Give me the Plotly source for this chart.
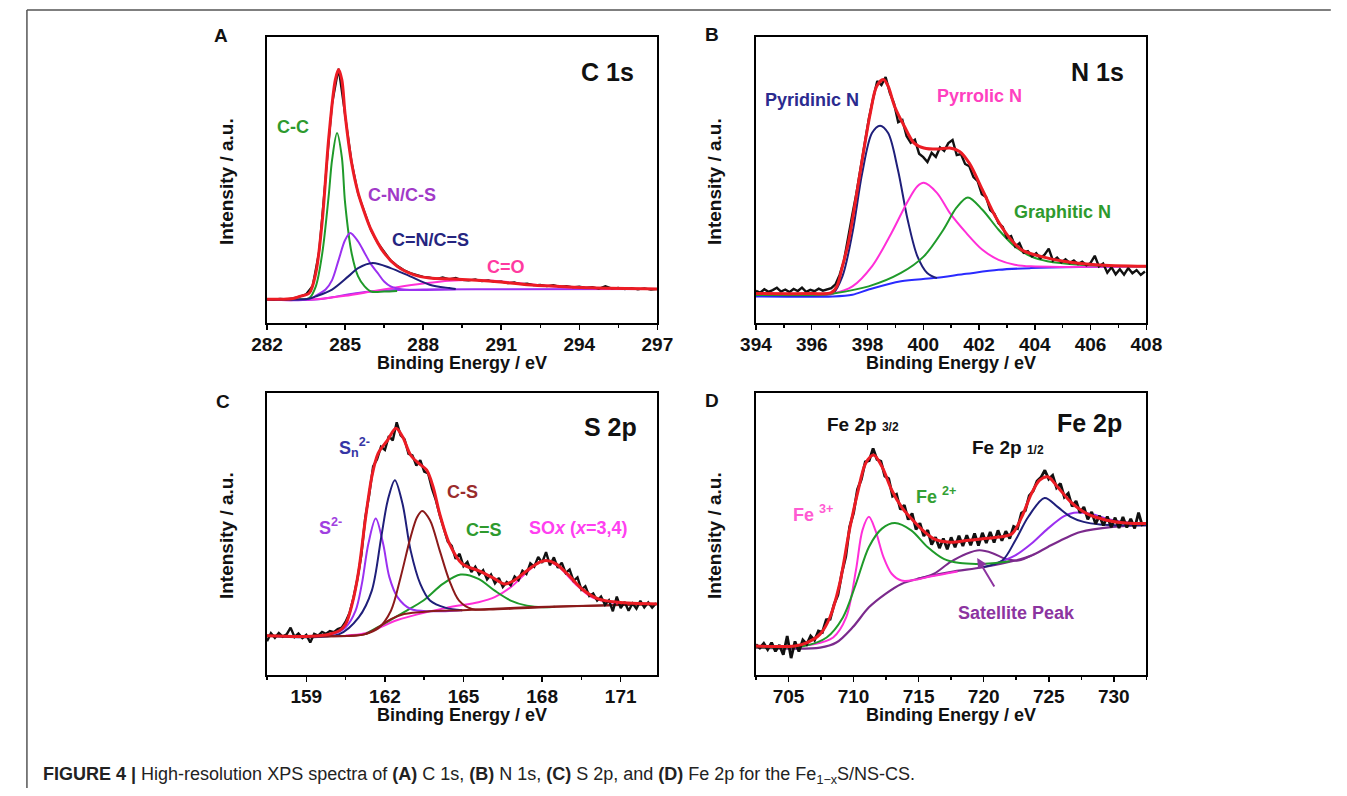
import plotly.graph_objects as go

# ---------------- Panel A : C 1s ----------------
A_FIT_X = [282, 283, 283.25, 283.625, 283.875, 284.125, 284.375, 284.625, 284.75, 284.875, 285.0, 285.25, 285.5, 285.75, 286.0, 286.5, 287.0, 287.625, 288.25, 289.0, 289.5, 290.75, 292.0, 293.25, 294.5, 297]
A_FIT_Y = [8.3, 8.6, 9.3, 10.5, 17.5, 36, 65, 85, 88.6, 85, 73, 56, 45.5, 38.5, 32.6, 24.5, 19.8, 16.9, 15.7, 15.4, 15.2, 14.5, 13.4, 12.8, 12.3, 11.9]
A_DATA_X0, A_DATA_STEP = 282.0, 0.25
A_DATA_Y = [8.4, 8.2, 8.5, 8.3, 8.7, 9.2, 10.1, 13.0, 25.0, 50.5, 76.5, 88.9, 73.5, 56.4, 45.2, 38.9, 32.3, 28.1, 24.8, 21.9,
            20.1, 18.6, 17.5, 16.8, 16.2, 15.9, 15.4, 16.0, 15.3, 15.8, 15.0, 14.9, 15.3, 14.6, 14.9, 14.3, 14.5, 13.9, 14.2, 13.6,
            13.8, 13.2, 13.4, 12.9, 13.3, 12.7, 12.9, 12.5, 12.8, 12.3, 12.6, 12.0, 12.9, 12.1, 12.3, 11.8, 12.2, 11.7, 12.1, 11.6, 11.9]
A_BASE_X = [282, 283, 283.5, 284, 284.5, 285, 285.5, 286, 287, 288, 290, 297]
A_BASE_Y = [8.2, 8.2, 8.0, 8.3, 9.0, 9.8, 10.5, 11.0, 11.5, 11.7, 11.8, 11.9]
A_CO_X = [282, 283, 284, 285, 286, 287, 288, 289, 290, 291, 292, 293, 294, 295, 296, 297]
A_CO_Y = [8.2, 8.0, 8.4, 9.5, 11.0, 12.5, 13.8, 14.8, 15.0, 14.5, 13.6, 12.8, 12.3, 12.0, 11.9, 11.9]
A_CC_X = [282, 283.3, 283.625, 283.875, 284.125, 284.375, 284.5, 284.69, 284.875, 285.0, 285.25, 285.5, 285.75, 286.0, 286.5, 287.0]
A_CC_Y = [8.2, 8.3, 8.7, 12.8, 24.5, 45, 57, 66.4, 58, 42, 24.5, 16.3, 12.8, 11.0, 11.0, 11.2]
A_CNS_X = [282, 283.6, 283.875, 284.25, 284.5, 284.75, 285.0, 285.2, 285.5, 285.75, 286.0, 286.25, 286.5, 286.75, 287.25, 289.25]
A_CNS_Y = [8.2, 8.3, 9.5, 11.7, 15.0, 22.0, 29.0, 31.5, 28.5, 24.5, 20.5, 17.5, 14.5, 12.8, 11.7, 11.8]
A_CNDS_X = [282, 283.6, 283.875, 284.5, 285.125, 285.5, 286.06, 286.75, 287.5, 288.25, 289.0, 289.25]
A_CNDS_Y = [8.2, 8.5, 9.3, 11.7, 16.3, 19.2, 21.0, 19.2, 16.3, 13.4, 12.2, 11.9]

# ---------------- Panel B : N 1s ----------------
B_FIT_X = [394.0, 396.0, 396.7, 396.9, 397.1, 397.3, 397.46, 397.81, 398.1, 398.33, 398.57, 398.74, 398.97, 399.32, 399.67, 400.02, 400.49, 400.95, 401.3, 401.65, 402.12, 402.58, 403.05, 403.52, 404.21, 405.03, 406.19, 408.0]
B_FIT_Y = [10.3, 10.3, 10.6, 12.8, 19.8, 27.5, 36.1, 57.1, 73.4, 82.8, 85.1, 82.8, 75.8, 68.8, 62.9, 61.2, 60.8, 61.2, 60.0, 55.9, 46.6, 37.3, 30.3, 25.6, 23.3, 21.6, 20.4, 19.8]
B_DATA_X0, B_DATA_STEP = 394.0, 0.15
B_DATA_Y = [11.2, 10.6, 11.8, 10.9, 11.5, 12.3, 11.0, 11.7, 10.8, 11.9, 11.2, 12.4, 10.9, 11.6, 11.1, 12.0, 11.3, 11.8, 12.2, 13.5,
            16.8, 21.5, 28.9, 37.6, 45.2, 54.0, 62.8, 71.5, 78.4, 84.6, 83.2, 86.0, 80.5, 76.8, 70.2, 71.0, 65.4, 63.0, 64.1, 59.2,
            58.0, 56.3, 59.5, 58.1, 61.4, 60.2, 62.9, 64.0, 58.7, 59.1, 55.6, 54.8, 51.0, 49.6, 45.0, 44.1, 39.5, 38.2, 34.9, 33.6,
            29.8, 30.4, 26.7, 27.9, 24.6, 25.1, 23.3, 24.4, 22.6, 23.9, 26.0, 21.8, 22.9, 21.2, 22.3, 21.0, 21.9, 20.6, 21.4, 20.2,
            21.0, 23.5, 19.8, 20.8, 17.6, 19.5, 17.0, 18.8, 16.9, 19.2, 17.4, 18.5, 16.8, 18.0]
B_PYRI_X = [394.0, 396.5, 396.76, 397.1, 397.46, 397.81, 398.16, 398.45, 398.74, 399.09, 399.44, 399.79, 400.14, 400.49]
B_PYRI_Y = [9.8, 9.9, 10.3, 16.3, 31.5, 52.4, 66.4, 69.0, 66.4, 53.6, 36.1, 23.3, 17.5, 15.7]
B_PYRR_X = [394, 396.5, 396.76, 397.46, 398.16, 398.86, 399.44, 399.79, 400.02, 400.49, 400.95, 401.54, 402.12, 402.7, 403.28, 403.86, 405.03, 408]
B_PYRR_Y = [9.8, 10.0, 10.3, 12.8, 19.8, 31.5, 42.5, 47.8, 49.0, 45.5, 38.5, 31.5, 25.6, 22.1, 20.4, 19.8, 19.6, 19.8]
B_GRAP_X = [394, 396.5, 396.76, 398.04, 399.2, 400.02, 400.72, 401.19, 401.6, 402.12, 402.7, 403.28, 403.86, 404.45, 405.61, 408]
B_GRAP_Y = [9.8, 10.0, 10.3, 12.8, 17.5, 23.3, 32.6, 40.3, 43.9, 39.6, 32.6, 26.8, 23.3, 21.6, 20.4, 19.8]
B_BASE_X = [394, 396.76, 397.46, 398.04, 399.2, 400.37, 401.54, 402.7, 403.86, 405.6, 408]
B_BASE_Y = [9.3, 9.3, 9.9, 11.7, 14.6, 15.7, 17.2, 18.6, 19.2, 19.6, 19.8]

# ---------------- Panel C : S 2p ----------------
C_FIT_X = [157.5, 159.5, 160.26, 160.5, 160.75, 161.0, 161.25, 161.5, 161.74, 162.11, 162.42, 162.67, 162.98, 163.28, 163.59, 163.84, 164.09, 164.46, 164.95, 165.57, 166.19, 166.56, 166.93, 167.42, 167.91, 168.16, 168.53, 169.02, 169.52, 170.14, 170.88, 172.4]
C_FIT_Y = [13.9, 13.9, 15.7, 18.0, 25.2, 37.0, 54.9, 70.3, 78.6, 83.4, 87.5, 84.6, 78.0, 75.1, 72.7, 66.7, 57.2, 46.6, 39.4, 37.0, 34.1, 32.3, 33.5, 37.0, 40.0, 40.6, 39.4, 35.3, 30.5, 27.0, 25.8, 25.2]
C_DATA_X0, C_DATA_STEP = 157.5, 0.15
C_DATA_Y = [12.0, 14.8, 13.2, 14.9, 13.6, 14.4, 16.8, 13.5, 14.7, 13.1, 14.2, 11.5, 14.6, 14.0, 15.3, 14.6, 15.6, 15.2, 16.3, 16.8,
            18.9, 22.0, 27.4, 34.0, 42.5, 55.8, 63.9, 74.0, 76.5, 80.9, 79.8, 84.7, 83.2, 89.6, 85.0, 83.6, 78.4, 77.9, 74.3, 76.2,
            72.1, 71.5, 66.0, 61.8, 56.4, 51.9, 47.3, 45.8, 41.2, 43.0, 38.6, 40.1, 36.5, 38.4, 35.7, 37.2, 33.9, 35.6, 32.5, 34.4,
            31.2, 33.0, 31.8, 34.9, 33.6, 37.0, 35.8, 39.6, 38.4, 41.9, 39.8, 43.6, 38.9, 41.7, 38.0, 39.8, 36.2, 37.4, 33.4, 34.6,
            30.3, 31.5, 28.0, 28.9, 26.4, 27.8, 24.9, 26.5, 22.6, 27.8, 23.7, 25.9, 22.8, 25.4, 23.5, 26.3, 24.0, 25.7, 23.9, 25.5]
C_BASE_X = [157.5, 160.75, 161.25, 161.74, 162.23, 162.73, 163.72, 164.95, 167.42, 172.4]
C_BASE_Y = [13.9, 13.9, 14.5, 16.9, 19.8, 21.6, 22.6, 23.0, 24.0, 25.2]
C_S2_X = [157.5, 160.01, 160.5, 160.88, 161.12, 161.37, 161.65, 161.93, 162.17, 162.48, 162.98, 163.72, 164.95]
C_S2_Y = [13.9, 14.5, 16.9, 22.8, 32.3, 46.6, 55.5, 46.6, 34.7, 27.6, 23.4, 22.6, 23.0]
C_SN_X = [157.5, 160.26, 161.0, 161.5, 161.86, 162.11, 162.38, 162.67, 162.98, 163.35, 163.72, 164.33, 164.95]
C_SN_Y = [13.9, 14.5, 20.4, 29.9, 48.9, 62.0, 69.1, 60.8, 44.2, 32.3, 26.4, 23.8, 23.0]
C_CS_X = [157.5, 160.75, 161.25, 161.74, 162.23, 162.6, 162.98, 163.23, 163.42, 163.72, 164.09, 164.46, 164.83, 165.32, 166.0, 168.0, 170.0, 172.4]
C_CS_Y = [13.9, 13.9, 14.5, 16.5, 22.8, 34.7, 48.9, 56.0, 58.2, 54.9, 44.2, 33.5, 26.4, 23.4, 23.2, 24.0, 24.6, 25.2]
C_CDS_X = [161.25, 161.99, 162.73, 163.47, 164.21, 164.89, 165.57, 166.19, 166.8, 167.42, 168.04, 168.5]
C_CDS_Y = [14.5, 18.3, 22.3, 26.4, 32.3, 35.6, 34.1, 29.9, 26.4, 24.6, 24.0, 24.2]
C_SOX_X = [160.5, 161.25, 162.48, 164.33, 165.57, 166.19, 166.8, 167.42, 167.79, 168.16, 168.65, 169.27, 169.89, 170.63, 172.4]
C_SOX_Y = [14.0, 14.8, 19.5, 23.8, 25.8, 27.6, 31.1, 36.5, 39.4, 40.6, 38.2, 32.3, 27.6, 25.8, 25.2]

# ---------------- Panel D : Fe 2p ----------------
D_FIT_X = [702.5, 705.5, 706.43, 707.43, 708.18, 708.93, 709.68, 710.3, 710.93, 711.55, 712.18, 712.93, 713.68, 714.43, 715.18, 716.18, 717.43, 718.68, 719.93, 721.18, 722.18, 722.93, 723.68, 724.3, 724.93, 725.68, 726.68, 727.93, 729.43, 730.93, 732.5]
D_FIT_Y = [10.3, 10.3, 11.5, 14.5, 20.4, 32.3, 51.3, 64.4, 75.1, 78.0, 73.9, 65.6, 59.6, 55.5, 51.9, 48.3, 47.1, 47.7, 48.3, 48.9, 50.1, 56.1, 64.4, 69.1, 70.3, 66.7, 61.4, 57.2, 54.9, 53.9, 53.7]
D_DATA_X0, D_DATA_STEP = 702.5, 0.3
D_DATA_Y = [10.8, 9.6, 11.2, 9.0, 11.5, 8.4, 10.6, 7.2, 13.8, 6.0, 11.9, 8.3, 12.4, 10.9, 13.8, 12.3, 15.6, 15.1, 19.6, 19.8,
            25.0, 28.4, 36.2, 42.0, 52.6, 57.5, 65.8, 69.4, 75.6, 76.0, 80.3, 76.4, 75.8, 70.5, 69.6, 63.4, 64.1, 58.7, 60.2, 55.1,
            57.3, 51.6, 53.8, 49.3, 51.4, 46.2, 48.9, 45.0, 48.4, 44.6, 48.8, 45.3, 49.4, 45.7, 49.6, 46.0, 50.2, 45.9, 50.4, 46.8,
            50.7, 47.0, 51.3, 47.6, 51.0, 48.4, 52.7, 52.0, 57.4, 58.3, 63.6, 65.2, 68.8, 70.1, 72.6, 69.5, 70.8, 66.4, 67.9, 63.1,
            64.4, 59.8, 61.7, 57.5, 59.6, 55.2, 57.8, 53.6, 56.5, 53.0, 56.2, 52.4, 55.8, 52.1, 56.0, 52.3, 55.4, 52.0, 57.6, 52.8]
D_FE3_X = [702.5, 706.93, 708.43, 709.43, 710.18, 710.68, 711.18, 711.68, 712.3, 712.93, 713.68, 714.68, 716.0, 718.0]
D_FE3_Y = [9.8, 10.9, 13.3, 20.4, 37.1, 51.3, 56.1, 51.3, 41.8, 35.9, 33.5, 33.7, 35.0, 36.7]
D_FE2_X = [702.5, 706.18, 707.93, 709.18, 710.18, 711.18, 712.18, 713.18, 714.43, 715.68, 716.93, 718.18, 719.43, 720.68, 722.0]
D_FE2_Y = [9.8, 10.3, 13.3, 20.4, 32.3, 45.4, 51.9, 53.9, 51.3, 45.4, 41.2, 39.7, 39.4, 39.6, 40.3]
D_BASE_X = [702.5, 707.43, 708.68, 709.93, 711.18, 712.43, 713.68, 714.93, 717.43, 719.93, 722.43, 723.68, 724.93, 726.18, 727.43, 729.93, 732.5]
D_BASE_Y = [9.7, 9.7, 11.5, 16.9, 24.0, 28.7, 32.3, 34.1, 36.5, 38.2, 40.6, 42.4, 45.4, 48.3, 50.7, 52.5, 53.1]
D_SAT_X = [714.93, 716.18, 717.43, 718.68, 719.68, 720.68, 721.68, 722.68, 723.68]
D_SAT_Y = [34.1, 35.9, 40.0, 43.0, 44.2, 43.2, 41.2, 40.6, 42.4]
D_P12A_X = [719.93, 721.43, 722.43, 723.43, 724.68, 725.68, 726.68, 727.68, 728.93, 732.5]
D_P12A_Y = [38.2, 40.6, 47.7, 56.1, 62.8, 59.6, 56.1, 54.3, 53.4, 53.1]
D_P12B_X = [720.5, 722.43, 723.68, 724.93, 726.18, 726.93, 728.18, 729.93, 732.5]
D_P12B_Y = [38.8, 42.4, 46.6, 51.9, 56.3, 57.5, 57.2, 54.9, 53.4]

# ---------------- styling ----------------
FONT = "Liberation Sans, Arial, sans-serif"
RED = "#ec1c24"
BLACK = "#111111"
GREEN = "#1f9a2a"
NAVY = "#1f1f7a"
VIOLET = "#9b30f0"
MAGENTA = "#ff2fd8"
BLUE = "#2a2aff"
BROWN = "#8b1a1a"
DPURPLE = "#7b2a8c"

# page is 1347x796; the default body margin (8 px) surrounds the figure
PAGE_W, PAGE_H, OFF = 1347, 796, 8
W, H = PAGE_W - 2 * OFF, PAGE_H - 2 * OFF


def px(xp, yp):
    """page pixel -> paper fraction"""
    return (xp - OFF) / W, 1 - (yp - OFF) / H


def grid(x0, step, n):
    return [round(x0 + step * i, 3) for i in range(n)]


fig = go.Figure()


def line(ax, x, y, color, width=2.0, smooth=True):
    fig.add_trace(go.Scatter(
        x=x, y=y, mode="lines", xaxis="x" + ax, yaxis="y" + ax,
        line=dict(color=color, width=width, shape="spline" if smooth else "linear",
                  smoothing=0.9 if smooth else None),
        showlegend=False, hoverinfo="skip"))


# Panel A
line("", A_BASE_X, A_BASE_Y, VIOLET)
line("", A_CO_X, A_CO_Y, MAGENTA)
line("", A_CC_X, A_CC_Y, GREEN)
line("", A_CNS_X, A_CNS_Y, VIOLET)
line("", A_CNDS_X, A_CNDS_Y, NAVY)
line("", grid(A_DATA_X0, A_DATA_STEP, len(A_DATA_Y)), A_DATA_Y, BLACK, 2.0, smooth=False)
line("", A_FIT_X, A_FIT_Y, RED, 3.0)

# Panel B
line("2", B_BASE_X, B_BASE_Y, BLUE)
line("2", B_PYRI_X, B_PYRI_Y, NAVY)
line("2", B_PYRR_X, B_PYRR_Y, MAGENTA)
line("2", B_GRAP_X, B_GRAP_Y, GREEN)
line("2", grid(B_DATA_X0, B_DATA_STEP, len(B_DATA_Y)), B_DATA_Y, BLACK, 2.4, smooth=False)
line("2", B_FIT_X, B_FIT_Y, RED, 3.0)

# Panel C
line("3", C_SOX_X, C_SOX_Y, MAGENTA)
line("3", C_CDS_X, C_CDS_Y, GREEN)
line("3", C_S2_X, C_S2_Y, VIOLET)
line("3", C_SN_X, C_SN_Y, NAVY)
line("3", C_BASE_X, C_BASE_Y, BROWN)
line("3", C_CS_X, C_CS_Y, BROWN)
line("3", grid(C_DATA_X0, C_DATA_STEP, len(C_DATA_Y)), C_DATA_Y, BLACK, 2.4, smooth=False)
line("3", C_FIT_X, C_FIT_Y, RED, 3.0)

# Panel D
line("4", D_BASE_X, D_BASE_Y, DPURPLE, 2.2)
line("4", D_SAT_X, D_SAT_Y, DPURPLE)
line("4", D_P12B_X, D_P12B_Y, VIOLET)
line("4", D_P12A_X, D_P12A_Y, NAVY)
line("4", D_FE3_X, D_FE3_Y, MAGENTA)
line("4", D_FE2_X, D_FE2_Y, GREEN)
line("4", grid(D_DATA_X0, D_DATA_STEP, len(D_DATA_Y)), D_DATA_Y, BLACK, 2.8, smooth=False)
line("4", D_FIT_X, D_FIT_Y, RED, 3.0)


def xaxis(domain, rng, tick0, dtick, mdtick, anchor):
    return dict(
        domain=domain, range=rng, anchor=anchor, tickmode="linear", tick0=tick0, dtick=dtick,
        ticks="outside", ticklen=5, tickwidth=1.5, tickcolor="black", ticklabelstandoff=-2,
        showline=True, linecolor="black", linewidth=2, mirror=True,
        showgrid=False, zeroline=False, fixedrange=True,
        tickfont=dict(family=FONT, size=19, color="#111", weight="bold"),
        minor=dict(ticks="outside", ticklen=3, tickwidth=1.5, tickcolor="black",
                   tick0=tick0, dtick=mdtick, showgrid=False))


def yaxis(domain, anchor):
    return dict(
        domain=domain, range=[0, 100], anchor=anchor, showticklabels=False, ticks="",
        showline=True, linecolor="black", linewidth=2, mirror=True,
        showgrid=False, zeroline=False, fixedrange=True)


def dom_x(a, b):
    return [px(a, 0)[0], px(b, 0)[0]]


def dom_y(top, bottom):
    return [px(0, bottom)[1], px(0, top)[1]]


XL = dom_x(257, 657)
XR = dom_x(758, 1158)
YT = dom_y(37, 323)
YB = dom_y(393, 675)

ann = []


def txt(x, y, text, size, color, xref="paper", yref="paper", bold=True, angle=0, xanchor="center"):
    ann.append(dict(x=x, y=y, xref=xref, yref=yref, text=text, showarrow=False,
                    textangle=angle, xanchor=xanchor, yanchor="middle",
                    font=dict(family=FONT, size=size, color=color, weight="bold" if bold else "normal")))


# panel letters
for letter, (xp, yp) in {"A": (210, 36), "B": (713, 35), "C": (212, 401), "D": (713, 400)}.items():
    x, y = px(xp, yp)
    txt(x, y, letter, 19, "#111")

# axis titles
for (xc, yc) in [(457, 363), (958, 363), (457, 715), (958, 715)]:
    x, y = px(xc, yc)
    txt(x, y, "Binding Energy / eV", 18, "#111")
for (xc, yc) in [(215, 182), (715, 182), (215, 536), (715, 536)]:
    x, y = px(xc, yc)
    txt(x, y, "Intensity / a.u.", 19, "#111", angle=-90)

LS = 18  # label font size
TS = 25  # panel title size
# Panel A labels
txt(295.1, 87.8, "C 1s", TS, "#111", "x", "y")
txt(282.98, 68.5, "C-C", LS, "#2e9a2e", "x", "y")
txt(287.18, 44.8, "C-N/C-S", LS, "#a13ac8", "x", "y")
txt(288.3, 29.0, "C=N/C=S", LS, "#25257f", "x", "y")
txt(291.2, 19.6, "C=O", LS, "#ff3aa0", "x", "y")
# Panel B labels
txt(406.25, 87.8, "N 1s", TS, "#111", "x2", "y2")
txt(396.0, 78.0, "Pyridinic N", LS, "#2b2b8f", "x2", "y2")
txt(402.0, 79.4, "Pyrrolic N", LS, "#ff40c0", "x2", "y2")
txt(405.0, 38.8, "Graphitic N", LS, "#2e9a2e", "x2", "y2")
# Panel C labels
txt(170.6, 87.9, "S 2p", TS, "#111", "x3", "y3")
txt(160.85, 80.5, "S<sub>n</sub><sup>2-</sup>", LS, "#3535a5", "x3", "y3")
txt(159.92, 52.5, "S<sup>2-</sup>", LS, "#a040e0", "x3", "y3")
txt(164.95, 64.9, "C-S", LS, "#9a2c2c", "x3", "y3")
txt(165.8, 51.4, "C=S", LS, "#2e9a2e", "x3", "y3")
txt(169.4, 52.1, "SO<i>x</i> (<i>x</i>=3,4)", LS, "#ff40f0", "x3", "y3")
# Panel D labels
txt(728.15, 89.4, "Fe 2p", TS, "#111", "x4", "y4")
txt(710.7, 88.7, "Fe 2p <span style='font-size:12px'>3/2</span>", 19, "#111", "x4", "y4")
txt(721.9, 80.5, "Fe 2p <span style='font-size:12px'>1/2</span>", 19, "#111", "x4", "y4")
txt(706.9, 57.4, "Fe <sup>3+</sup>", LS, "#ff5ad2", "x4", "y4")
txt(716.3, 63.8, "Fe <sup>2+</sup>", LS, "#33a033", "x4", "y4")
txt(722.5, 22.0, "Satellite Peak", LS, "#8c34a0", "x4", "y4")
ann.append(dict(x=719.5, y=41.5, xref="x4", yref="y4", ax=18, ay=30, axref="pixel", ayref="pixel",
                showarrow=True, arrowhead=2, arrowsize=1, arrowwidth=2, arrowcolor="#8c34a0", text=""))

# caption
cx, cy = px(25, 775)
ann.append(dict(x=cx, y=cy, xref="paper", yref="paper", xanchor="left", yanchor="middle", showarrow=False,
                text="<b>FIGURE 4 |</b> High-resolution XPS spectra of <b>(A)</b> C 1s, <b>(B)</b> N 1s, "
                     "<b>(C)</b> S 2p, and <b>(D)</b> Fe 2p for the Fe<sub>1−x</sub>S/NS-CS.",
                font=dict(family=FONT, size=18, color="#222")))

fx, fy = px(11, 10)
shapes = [
    dict(type="line", xref="paper", yref="paper", x0=fx, x1=fx, y0=fy, y1=px(0, 796)[1],
         line=dict(color="#555", width=1.5)),
    dict(type="line", xref="paper", yref="paper", x0=fx, x1=px(1347, 0)[0], y0=fy, y1=fy,
         line=dict(color="#555", width=1.5)),
]

fig.update_layout(
    width=W, height=H, autosize=False,
    margin=dict(l=0, r=0, t=0, b=0),
    paper_bgcolor="white", plot_bgcolor="white",
    showlegend=False, hovermode=False,
    xaxis=xaxis(XL, [282, 297], 282, 3, 1.5, "y"),
    yaxis=yaxis(YT, "x"),
    xaxis2=xaxis(XR, [394, 408], 394, 2, 1, "y2"),
    yaxis2=yaxis(YT, "x2"),
    xaxis3=xaxis(XL, [157.5, 172.4], 159, 3, 1.5, "y3"),
    yaxis3=yaxis(YB, "x3"),
    xaxis4=xaxis(XR, [702.5, 732.5], 705, 5, 2.5, "y4"),
    yaxis4=yaxis(YB, "x4"),
    annotations=ann,
    shapes=shapes,
)

fig.write_html("out.html", config={"displayModeBar": False, "staticPlot": True})
